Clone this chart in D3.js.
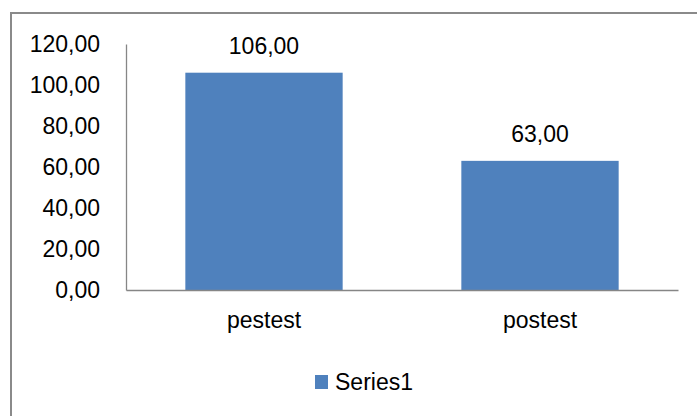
<!DOCTYPE html>
<html>
<head>
<meta charset="utf-8">
<script src="https://cdn.jsdelivr.net/npm/d3@7"></script>
<style>
  html, body { margin: 0; padding: 0; background: #fff; }
  svg { display: block; }
  text { font-family: "Liberation Sans", Arial, sans-serif; fill: #000; }
</style>
</head>
<body>
<svg id="chart" width="697" height="416"></svg>
<script>
const categories = ["pestest", "postest"];
const values = [106, 63];
const seriesName = "Series1";
const yTicks = [0, 20, 40, 60, 80, 100, 120];

const fmt = v => d3.format(".2f")(v).replace(".", ",");
const FS = 23;

const svg = d3.select("#chart");

// outer chart border
svg.append("rect")
  .attr("x", 11).attr("y", 13)
  .attr("width", 700).attr("height", 420)
  .attr("fill", "none").attr("stroke", "#8a8a8a").attr("stroke-width", 2);

const plot = { left: 126, right: 678, top: 44, bottom: 290 };

const x = d3.scaleBand().domain(categories)
  .range([plot.left, plot.right]).paddingInner(0.43).paddingOuter(0.215);
const y = d3.scaleLinear().domain([0, 120]).range([plot.bottom, plot.top]);

// bars
svg.selectAll("rect.bar").data(values).enter().append("rect")
  .attr("class", "bar")
  .attr("x", (d, i) => x(categories[i]))
  .attr("y", d => y(d))
  .attr("width", x.bandwidth())
  .attr("height", d => y(0) - y(d))
  .attr("fill", "#4F81BD");

// data labels
svg.selectAll("text.dl").data(values).enter().append("text")
  .attr("class", "dl")
  .attr("x", (d, i) => x(categories[i]) + x.bandwidth() / 2)
  .attr("y", d => y(d) - 19)
  .attr("text-anchor", "middle")
  .attr("font-size", FS)
  .text(d => fmt(d));

// y axis
const yAxis = svg.append("g")
  .attr("transform", `translate(${plot.left},0)`)
  .call(d3.axisLeft(y).tickValues(yTicks).tickSize(0).tickPadding(26).tickFormat(fmt));
yAxis.select(".domain").attr("stroke", "#868686").attr("stroke-width", 1.3);
yAxis.selectAll("text").attr("font-size", FS).attr("fill", "#000")
  .style("font-family", '"Liberation Sans", Arial, sans-serif');

// x axis
const xAxis = svg.append("g")
  .attr("transform", `translate(0,${plot.bottom})`)
  .call(d3.axisBottom(x).tickSize(0).tickPadding(22));
xAxis.select(".domain").attr("stroke", "#868686").attr("stroke-width", 1.3);
xAxis.selectAll("text").attr("font-size", FS).attr("fill", "#000")
  .style("font-family", '"Liberation Sans", Arial, sans-serif');

// legend
const lg = svg.append("g");
lg.append("rect").attr("x", 315).attr("y", 375).attr("width", 13).attr("height", 14)
  .attr("fill", "#4F81BD");
lg.append("text").attr("x", 335).attr("y", 390).attr("font-size", FS).text(seriesName);
</script>
</body>
</html>
